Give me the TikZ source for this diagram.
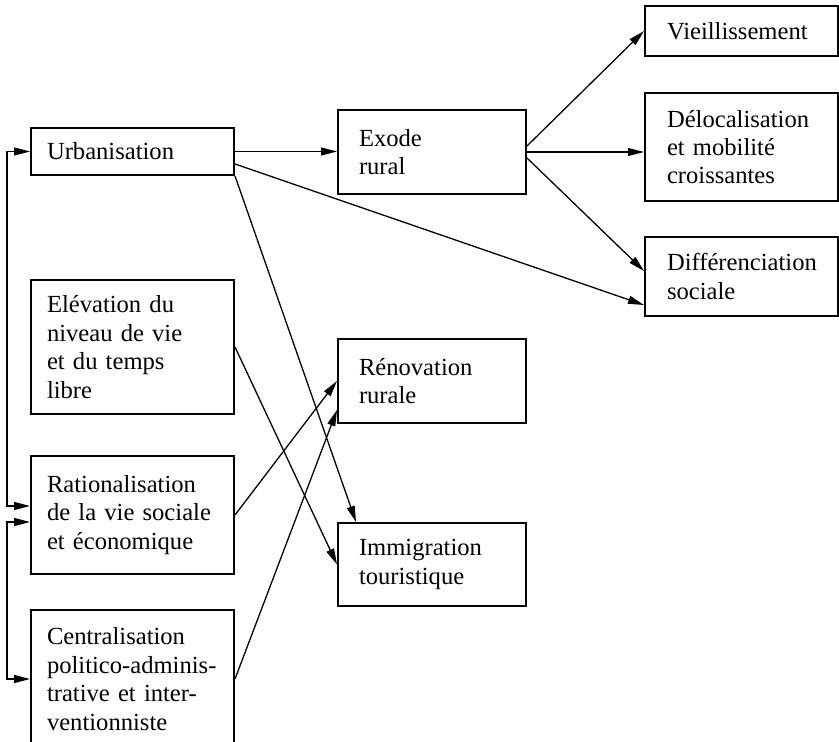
\documentclass[tikz,border=0pt]{standalone}
\usepackage{fontspec}
\setmainfont{Liberation Serif}
\usetikzlibrary{arrows.meta}

\begin{document}
\begin{tikzpicture}[x=0.5pt, y=-0.5pt,
  box/.style={draw, line width=1pt, anchor=north west, align=left,
    inner ysep=3pt, font=\fontsize{12.3}{14.2}\selectfont},
  leftbox/.style={box, inner xsep=8pt, text width=85.5pt},
  midbox/.style={box, inner xsep=10.5pt, text width=73pt},
  rightbox/.style={box, inner xsep=11pt, text width=74.5pt},
  link/.style={line width=0.65pt, -{Triangle[length=8pt,width=4pt]}},
  feedback/.style={line width=0.65pt,
    {Triangle[length=8pt,width=4pt]}-{Triangle[length=8pt,width=4pt]}}]
  \useasboundingbox (0,0) rectangle (839,742);

  % Causes (left column)
  \node[leftbox, minimum height=23.5pt] (urb) at (30,127) {Urbanisation};
  \node[leftbox, minimum height=67pt] (elev) at (30,279)
    {Elévation du\\niveau de vie\\et du temps\\libre};
  \node[leftbox, minimum height=59pt] (rat) at (30,455)
    {Rationalisation\\de la vie sociale\\et économique};
  \node[leftbox, minimum height=69pt] (cent) at (30,609)
    {Centralisation\\politico-adminis-\\trative et inter-\\ventionniste};

  % Middle column
  \node[midbox, minimum height=42pt] (exode) at (337,109) {Exode\\rural};
  \node[midbox, minimum height=42pt] (reno) at (337,338) {Rénovation\\rurale};
  \node[midbox, minimum height=41.5pt] (immig) at (337,522)
    {Immigration\\touristique};

  % Effects (right column)
  \node[rightbox, minimum height=25pt] (vieil) at (644,5) {Vieillissement};
  \node[rightbox, minimum height=54pt] (deloc) at (644,92)
    {Délocalisation\\et mobilité\\croissantes};
  \node[rightbox, minimum height=39.5pt] (diff) at (644,236)
    {Différenciation\\sociale};

  % Links from urbanisation
  \draw[link] (urb.east) -- (urb.east -| exode.west);
  \draw[link] ([yshift=-6.25pt]urb.east) -- ([yshift=6pt]diff.south west);
  \draw[link] (urb.south east) -- ([xshift=9.5pt]immig.north west);

  % Links from exode rural
  \draw[link] ([yshift=3pt]exode.east) -- (vieil.west);
  \draw[link] (exode.east) -- (exode.east -| deloc.west);
  \draw[link] ([yshift=-3pt]exode.east) -- ([yshift=2.75pt]diff.west);

  % Crossing links
  \draw[link] (elev.east) -- (immig.west);
  \draw[link] (rat.east) -- (reno.west);
  \draw[link] (cent.east) -- ([yshift=7pt]reno.south west);

  % Feedback on the left
  \draw[feedback] (urb.west) -- ++(-23,0) |- ([yshift=4.5pt]rat.west);
  \draw[feedback] ([yshift=-3.5pt]rat.west) -- ++(-23,0) |- (cent.west);
\end{tikzpicture}
\end{document}
